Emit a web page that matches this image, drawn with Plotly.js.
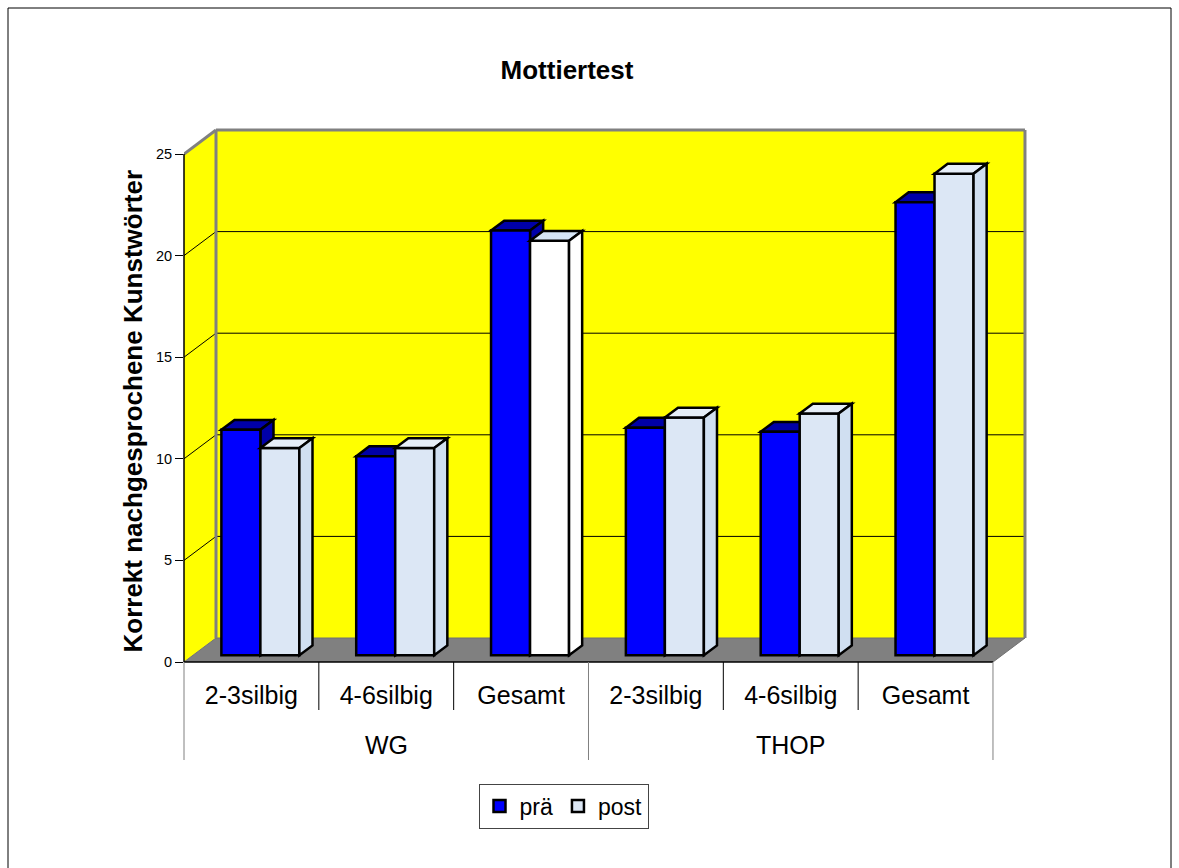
<!DOCTYPE html>
<html>
<head>
<meta charset="utf-8">
<script src="https://cdn.plot.ly/plotly-3.0.1.min.js"></script>
<style>
  html, body { margin: 0; padding: 0; background: #ffffff; }
  #chart { width: 1179px; height: 868px; }
</style>
</head>
<body>
<div id="chart"></div>
<script>
// ---- data ----
const groupLabels = ['WG', 'THOP'];
const categoryLabels = ['2-3silbig', '4-6silbig', 'Gesamt', '2-3silbig', '4-6silbig', 'Gesamt'];
const categoryGroupIndex = [0, 0, 0, 1, 1, 1];
const seriesNames = ['prä', 'post'];
const praeValues = [11.1, 9.8, 20.9, 11.2, 11.0, 22.3];
const postValues = [10.2, 10.2, 20.4, 11.7, 11.9, 23.7];
const yTickValues = [0, 5, 10, 15, 20, 25];
const chartTitle = 'Mottiertest';
const yAxisTitle = 'Korrekt nachgesprochene Kunstwörter';

// ---- styles ----
const FONT = 'Liberation Sans, Arial, Helvetica, sans-serif';
const WALL = '#FFFF00';
const FLOOR = '#808080';
const EDGE = '#808080';
const PRAE_FRONT = '#0000FF';
const PRAE_SHADE = '#0000A8';
const POST_FRONT = '#DCE7F5';
const POST_TOP = '#E6EEF8';
const POST_SIDE = '#D0DFF1';
const POST_PLAIN = '#FFFFFF';
const postFront = [POST_FRONT, POST_FRONT, POST_PLAIN, POST_FRONT, POST_FRONT, POST_FRONT];
const postTop = [POST_TOP, POST_TOP, '#D6E5F6', POST_TOP, POST_TOP, POST_TOP];
const postSide = [POST_SIDE, POST_SIDE, POST_PLAIN, POST_SIDE, POST_SIDE, POST_SIDE];
const OUTLINE = 2.5;

// ---- geometry of the oblique 3D box ----
const W = 1179, H = 868;
const catPx = 134.83;          // pixels per category on the front plane
const unitPx = 20.32;          // pixels per value unit
const wallDepth = {x: 32, y: 24};
const margin = {l: 184, r: 151, t: 126, b: 206, pad: 0};
const plotW = W - margin.l - margin.r;
const plotH = H - margin.t - margin.b;
const yMax = yTickValues[yTickValues.length - 1];
const nCat = categoryLabels.length;
const xRange = [-0.5, -0.5 + plotW / catPx];
const yRange = [0, plotH / unitPx];
const dX = wallDepth.x / catPx, dY = wallDepth.y / unitPx;
const xL = -0.5, xR = nCat - 0.5;

// bar placement inside the box depth
const barW = 39 / catPx;
const frontDepth = 0.28, barDepth = 0.41;
const fx = frontDepth * dX, fy = frontDepth * dY;
const bdx = barDepth * dX, bdy = barDepth * dY;

// pixel -> paper helpers for items outside the plot area
const pxX = px => (px - margin.l) / plotW;
const pxY = py => (H - margin.b - py) / plotH;
const domX = v => (v - xRange[0]) / (xRange[1] - xRange[0]);

const poly = pts => 'M' + pts.map(p => p[0] + ',' + p[1]).join(' L') + ' Z';

const shapes = [];
// side wall, back wall and floor
shapes.push({type: 'path', layer: 'below', xref: 'x', yref: 'y',
  path: poly([[xL, 0], [xL + dX, dY], [xL + dX, yMax + dY], [xL, yMax]]),
  fillcolor: WALL, line: {width: 0}});
shapes.push({type: 'path', layer: 'below', xref: 'x', yref: 'y',
  path: poly([[xL + dX, dY], [xR + dX, dY], [xR + dX, yMax + dY], [xL + dX, yMax + dY]]),
  fillcolor: WALL, line: {width: 0}});
shapes.push({type: 'path', layer: 'below', xref: 'x', yref: 'y',
  path: poly([[xL, 0], [xL + dX, dY], [xR + dX, dY], [xR, 0]]),
  fillcolor: FLOOR, line: {color: '#707070', width: 1}});
// gridlines on back and side walls
yTickValues.slice(1, -1).forEach(v => {
  shapes.push({type: 'line', layer: 'below', xref: 'x', yref: 'y',
    x0: xL + dX, x1: xR + dX, y0: v + dY, y1: v + dY, line: {color: '#000', width: 1}});
  shapes.push({type: 'line', layer: 'below', xref: 'x', yref: 'y',
    x0: xL, x1: xL + dX, y0: v, y1: v + dY, line: {color: '#000', width: 1}});
});
// wall edges
[[xL + dX, dY, xL + dX, yMax + dY],
 [xL + dX, yMax + dY, xR + dX, yMax + dY],
 [xR + dX, dY, xR + dX, yMax + dY],
 [xL, yMax, xL + dX, yMax + dY]].forEach(s => {
  shapes.push({type: 'line', layer: 'below', xref: 'x', yref: 'y',
    x0: s[0], y0: s[1], x1: s[2], y1: s[3], line: {color: EDGE, width: 3}});
});

// top and side faces of the bars
praeValues.forEach((v, i) => {
  const x0 = i + fx - barW, x1 = i + fx, top = fy + v;
  shapes.push({type: 'path', layer: 'below', xref: 'x', yref: 'y',
    path: poly([[x0, top], [x0 + bdx, top + bdy], [x1 + bdx, top + bdy], [x1, top]]),
    fillcolor: PRAE_SHADE, line: {color: '#000', width: OUTLINE}});
  shapes.push({type: 'path', layer: 'below', xref: 'x', yref: 'y',
    path: poly([[x1, fy], [x1 + bdx, fy + bdy], [x1 + bdx, top + bdy], [x1, top]]),
    fillcolor: PRAE_SHADE, line: {color: '#000', width: OUTLINE}});
});
postValues.forEach((v, i) => {
  const x0 = i + fx, x1 = i + fx + barW, top = fy + v;
  shapes.push({type: 'path', layer: 'above', xref: 'x', yref: 'y',
    path: poly([[x0, top], [x0 + bdx, top + bdy], [x1 + bdx, top + bdy], [x1, top]]),
    fillcolor: postTop[i], line: {color: '#000', width: OUTLINE}});
  shapes.push({type: 'path', layer: 'above', xref: 'x', yref: 'y',
    path: poly([[x1, fy], [x1 + bdx, fy + bdy], [x1 + bdx, top + bdy], [x1, top]]),
    fillcolor: postSide[i], line: {color: '#000', width: OUTLINE}});
});

// front axis lines
shapes.push({type: 'line', layer: 'above', xref: 'x domain', yref: 'y',
  x0: 0, x1: 0, y0: 0, y1: yMax, line: {color: '#000', width: 1.5}});
shapes.push({type: 'line', layer: 'above', xref: 'x', yref: 'y domain',
  x0: xL, x1: xR, y0: 0, y1: 0, line: {color: '#000', width: 1.5}});

// category separators below the axis
categoryLabels.forEach((c, i) => {
  if (i === 0) return;
  const isGroupEdge = categoryGroupIndex[i] !== categoryGroupIndex[i - 1];
  if (!isGroupEdge) {
    shapes.push({type: 'line', layer: 'above', xref: 'x domain', yref: 'paper',
      x0: domX(i - 0.5), x1: domX(i - 0.5), y0: 0, y1: pxY(710),
      line: {color: '#000', width: 1}});
  }
});
const groupEdges = [xL];
categoryGroupIndex.forEach((g, i) => { if (i > 0 && g !== categoryGroupIndex[i - 1]) groupEdges.push(i - 0.5); });
groupEdges.push(xR);
groupEdges.forEach(e => {
  shapes.push({type: 'line', layer: 'above', xref: 'x domain', yref: 'paper',
    x0: domX(e), x1: domX(e), y0: 0, y1: pxY(760),
    line: {color: '#808080', width: 1}});
});

// outer chart frame
shapes.push({type: 'rect', layer: 'above', xref: 'paper', yref: 'paper',
  x0: pxX(8), x1: pxX(1171), y0: pxY(880), y1: pxY(8),
  line: {color: '#000', width: 1}, fillcolor: 'rgba(0,0,0,0)'});

// group labels and the y title
const annotations = groupLabels.map((g, gi) => {
  const idx = categoryGroupIndex.map((v, i) => v === gi ? i : null).filter(v => v !== null);
  const center = (idx[0] + idx[idx.length - 1]) / 2;
  return {text: g, xref: 'x', yref: 'paper', x: center, y: pxY(745),
    xanchor: 'center', yanchor: 'middle', showarrow: false,
    font: {family: FONT, size: 25, color: '#000'}};
});
annotations.push({text: yAxisTitle, xref: 'paper', yref: 'paper',
  x: pxX(132), y: pxY(411.5), xanchor: 'center', yanchor: 'middle',
  textangle: -90, showarrow: false,
  font: {family: FONT, size: 26, color: '#000', weight: 700}});

const xIdx = categoryLabels.map((c, i) => i);

const traces = [
  {type: 'bar', name: seriesNames[0], x: xIdx, y: praeValues, base: fy,
   offset: fx - barW, width: barW,
   marker: {color: PRAE_FRONT, line: {color: '#000', width: OUTLINE}},
   hoverinfo: 'skip'},
  {type: 'bar', name: seriesNames[1], x: xIdx, y: postValues, base: fy,
   offset: fx, width: barW,
   marker: {color: postFront, line: {color: '#000', width: OUTLINE}},
   hoverinfo: 'skip'}
];

const layout = {
  width: W, height: H,
  margin: margin,
  paper_bgcolor: '#ffffff',
  plot_bgcolor: 'rgba(0,0,0,0)',
  font: {family: FONT, color: '#000'},
  barmode: 'overlay',
  showlegend: true,
  hovermode: false,
  title: {text: chartTitle, xref: 'container', yref: 'container',
    x: 567 / W, y: 1 - 70 / H, xanchor: 'center', yanchor: 'middle',
    font: {family: FONT, size: 26, color: '#000', weight: 700}},
  xaxis: {range: xRange, tickmode: 'array', tickvals: xIdx, ticktext: categoryLabels,
    ticks: '', showgrid: false, zeroline: false, showline: false,
    ticklabelstandoff: 16, tickfont: {family: FONT, size: 25, color: '#000'},
    fixedrange: true},
  yaxis: {range: yRange, tickmode: 'array', tickvals: yTickValues,
    ticks: 'outside', ticklen: 8, tickwidth: 1, tickcolor: '#000',
    showgrid: false, zeroline: false, showline: false,
    tickfont: {family: FONT, size: 14.5, color: '#000'}, fixedrange: true},
  legend: {orientation: 'h', x: pxX(563.5), y: pxY(806), xanchor: 'center', yanchor: 'middle',
    bordercolor: '#444', borderwidth: 1, bgcolor: '#ffffff',
    font: {family: FONT, size: 23, color: '#000'}, itemwidth: 30, traceorder: 'normal'},
  shapes: shapes,
  annotations: annotations
};

Plotly.newPlot('chart', traces, layout, {displayModeBar: false, staticPlot: true});
</script>
</body>
</html>
